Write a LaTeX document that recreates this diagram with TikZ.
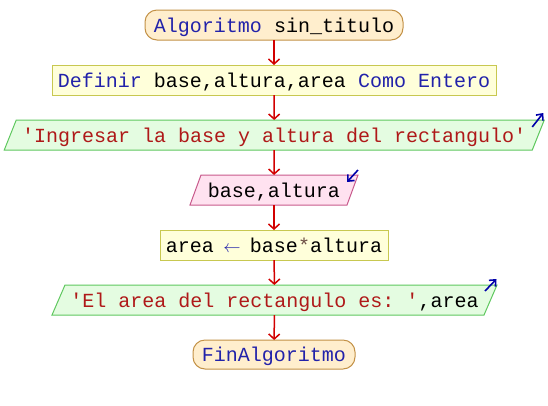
\documentclass[tikz,border=0pt]{standalone}
\usepackage{fontspec}
\newfontfamily\codefont{Liberation Mono}
\usetikzlibrary{arrows.meta,backgrounds,calc}

% palette
\definecolor{kw}{RGB}{34,34,170}
\definecolor{strred}{RGB}{175,25,25}
\definecolor{opcol}{RGB}{110,80,70}
\definecolor{termfill}{RGB}{255,238,205}
\definecolor{termline}{RGB}{195,145,70}
\definecolor{procfill}{RGB}{255,255,218}
\definecolor{procline}{RGB}{200,200,80}
\definecolor{outfill}{RGB}{228,252,225}
\definecolor{outline}{RGB}{95,200,95}
\definecolor{infill}{RGB}{255,226,240}
\definecolor{inline}{RGB}{200,90,140}
\definecolor{flowred}{RGB}{210,0,0}
\definecolor{ioblue}{RGB}{0,0,170}

\begin{document}
\begin{tikzpicture}[x=1pt,y=-1pt,
  every node/.style={font=\codefont\fontsize{20}{24}\selectfont\frenchspacing,
    text height=16pt, text depth=2pt, inner sep=0pt, outer sep=0pt,
    minimum height=30pt},
  terminal/.style={draw=termline, fill=termfill, rounded corners=12pt, line width=1pt},
  procbox/.style={draw=procline, fill=procfill, line width=1pt},
  iobox/.style={},
  flow/.style={draw=flowred, line width=1.5pt, -{Straight Barb[length=5pt,width=11pt]}},
  ioarrow/.style={draw=ioblue, line width=1.6pt, -{Straight Barb[length=5pt,width=9pt]}},
  outshape/.style={draw=outline, fill=outfill, line width=1pt},
  inshape/.style={draw=inline, fill=infill, line width=1pt}]

\useasboundingbox (0,0) rectangle (548,405);

% flowchart blocks
\node[terminal, minimum width=258pt] (start) at (274,25)
  {{\color{kw}Algoritmo} sin\_titulo};
\node[procbox, minimum width=444pt] (def) at (274,80)
  {{\color{kw}Definir} base,altura,area {\color{kw}Como Entero}};
\node[iobox, minimum width=528pt] (out1) at (274.25,135)
  {{\color{strred}\textquotesingle Ingresar la base y altura del rectangulo\textquotesingle}};
\node[iobox, minimum width=157pt] (in) at (274,190)
  {base,altura};
\node[procbox, minimum width=228pt] (asg) at (274,245)
  {area \makebox[12pt]{\color{kw}\fontsize{17}{19}\selectfont$\leftarrow$} base{\color{opcol}*}altura};
\node[iobox, minimum width=432pt] (out2) at (274.5,300)
  {{\color{strred}\textquotesingle El area del rectangulo es: \textquotesingle},area};
\node[terminal, minimum width=162pt, minimum height=29pt] (stop) at (274,354.5)
  {{\color{kw}FinAlgoritmo}};

% slanted input/output shapes behind their texts
\begin{scope}[on background layer]
  \fill[white] (0,0) rectangle (548,405);
  \path[outshape] ($(out1.north west)+(6,0)$) -- ($(out1.north east)+(6,0)$)
    -- ($(out1.south east)+(-6,0)$) -- ($(out1.south west)+(-6,0)$) -- cycle;
  \path[inshape] ($(in.north west)+(5.5,0)$) -- ($(in.north east)+(5.5,0)$)
    -- ($(in.south east)+(-5.5,0)$) -- ($(in.south west)+(-5.5,0)$) -- cycle;
  \path[outshape] ($(out2.north west)+(6.5,0)$) -- ($(out2.north east)+(6.5,0)$)
    -- ($(out2.south east)+(-6.5,0)$) -- ($(out2.south west)+(-6.5,0)$) -- cycle;
\end{scope}

% flow connectors
\draw[flow] (start) -- (def);
\draw[flow] (def) -- (out1);
\draw[flow] (out1) -- (in);
\draw[flow] (in) -- (asg);
\draw[flow] (asg) -- (out2);
\draw[flow] (out2) -- (stop);

% small input/output markers at the upper right corners
\coordinate (o1a) at ($(out1.north east)+(-6,7)$);
\coordinate (o1b) at ($(out1.north east)+(5,-7)$);
\draw[ioarrow] (o1a) -- (o1b);
\coordinate (ina) at ($(in.north east)+(5.5,-5)$);
\coordinate (inb) at ($(in.north east)+(-5.5,7)$);
\draw[ioarrow] (ina) -- (inb);
\coordinate (o2a) at ($(out2.north east)+(-5.5,6)$);
\coordinate (o2b) at ($(out2.north east)+(6,-6)$);
\draw[ioarrow] (o2a) -- (o2b);
\end{tikzpicture}
\end{document}
